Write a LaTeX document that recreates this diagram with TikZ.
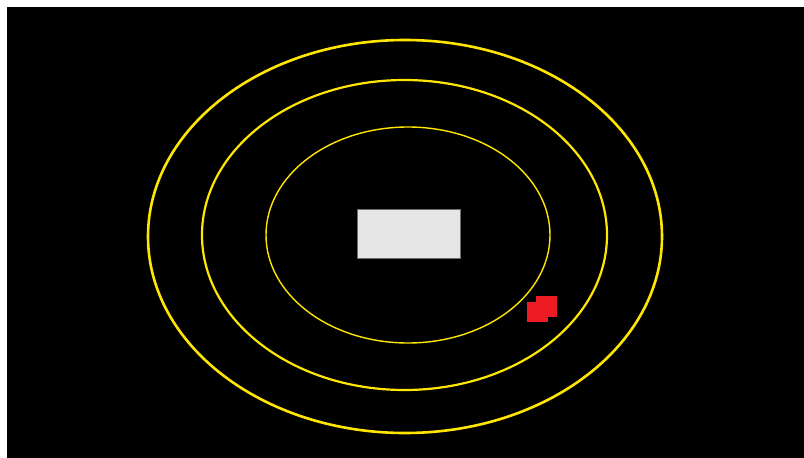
\documentclass[tikz,border=0pt]{standalone}
\definecolor{ring}{RGB}{255,230,0}
\definecolor{boxfill}{RGB}{230,230,230}
\definecolor{boxedge}{RGB}{110,110,110}
\definecolor{mark}{RGB}{237,28,36}
\tikzset{
  ringline/.style={draw=ring},
  redsq/.style={fill=mark, draw=none}
}
\begin{document}
\begin{tikzpicture}[x=1pt,y=-1pt]
\useasboundingbox (0,0) rectangle (804,458);
\fill[white] (0,0) rectangle (804,458);
\fill[black] (7,7) rectangle (804,458);
\draw[ringline, line width=2.6pt] (405,236.5) ellipse [x radius=257, y radius=196.5];
\draw[ringline, line width=2.2pt] (404.5,235) ellipse [x radius=202.5, y radius=155];
\draw[ringline, line width=1.4pt] (408,235) ellipse [x radius=142, y radius=108];
\node[draw=boxedge, fill=boxfill, line width=0.8pt, minimum width=103pt, minimum height=49pt, inner sep=0pt] (box) at (409,234) {};
\fill[redsq] (527.3,301.7) rectangle (548,321.7);
\fill[redsq] (536,295.7) rectangle (557.3,317.3);
\end{tikzpicture}
\end{document}
